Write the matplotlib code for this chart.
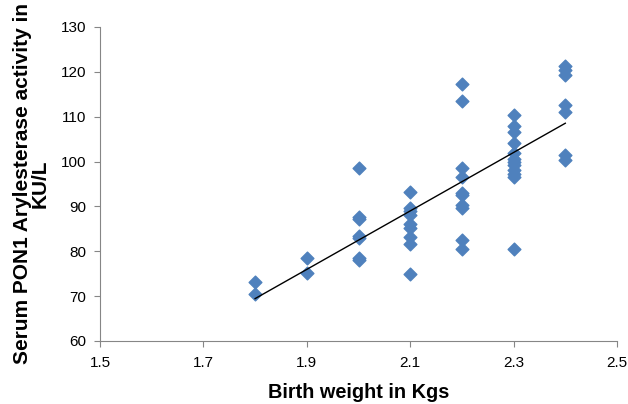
import numpy as np
import matplotlib.pyplot as plt

plt.rcParams['font.family'] = ['Liberation Sans', 'DejaVu Sans']

# birth weight groups and PON1 activity
w18 = [73.2, 70.4]
w19 = [78.6, 75.2]
w20 = [98.5, 87.6, 87.1, 83.4, 83.0, 78.6, 78.1]
w21 = [93.3, 89.6, 89.0, 88.0, 86.0, 85.2, 83.2, 81.6, 74.9]
w22 = [117.2, 113.6, 98.5, 96.6, 93.1, 92.6, 90.3, 89.6, 82.5, 80.4]
w23 = [110.3, 108.0, 106.5, 104.2, 101.8, 100.6, 100.0, 99.2, 98.2, 97.2, 96.5, 80.4]
w24 = [121.4, 120.4, 119.4, 112.5, 111.0, 101.5, 100.4]
groups = {1.8: w18, 1.9: w19, 2.0: w20, 2.1: w21, 2.2: w22, 2.3: w23, 2.4: w24}

x = np.concatenate([[k] * len(v) for k, v in groups.items()])
y = np.concatenate(list(groups.values()))

fig = plt.figure(figsize=(6.28, 4.04), dpi=100)
ax = fig.add_axes([100 / 628, 63 / 404, 517 / 628, 314 / 404])

ax.scatter(x, y, marker='D', s=42, color='#4F81BD', zorder=3)

m, b = np.polyfit(x, y, 1)
xl = np.array([1.8, 2.4])
ax.plot(xl, m * xl + b, color='black', lw=1, zorder=4)

ax.set_xlim(1.5, 2.5)
ax.set_ylim(60, 130)
ax.set_xticks(np.arange(1.5, 2.51, 0.2))
ax.set_yticks(np.arange(60, 131, 10))
ax.xaxis.set_major_formatter(plt.FuncFormatter(lambda v, p: f"{v:g}"))
ax.tick_params(labelsize=11, color='#868686', length=4)
ax.tick_params(axis='x', pad=7)
ax.tick_params(axis='y', pad=6)
for s in ['top', 'right']:
    ax.spines[s].set_visible(False)
for s in ['left', 'bottom']:
    ax.spines[s].set_color('#868686')

ax.set_xlabel("Birth weight in Kgs", fontsize=14.3, fontweight='bold', labelpad=9)
ax.set_ylabel("Serum PON1 Arylesterase activity in\nKU/L", fontsize=15,
              fontweight='bold', labelpad=8, linespacing=0.9)

fig.savefig("out.png", dpi=100)
